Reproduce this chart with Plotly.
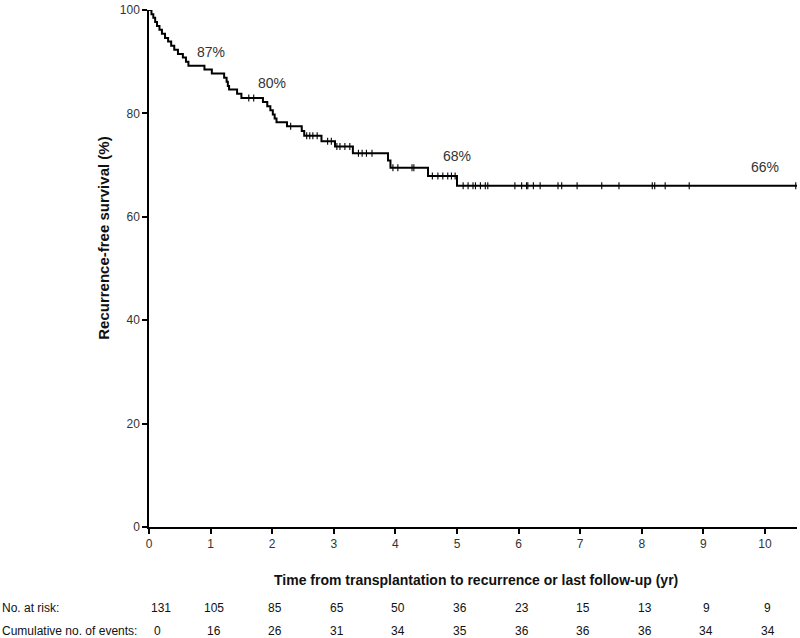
import numpy as np
import plotly.graph_objects as go

# Kaplan-Meier steps (time in years, survival % after the step)
event_times = [0.04, 0.07, 0.10, 0.13, 0.17, 0.21, 0.26, 0.31, 0.36, 0.41, 0.47, 0.55, 0.60, 0.64,
               0.90, 1.02, 1.22, 1.26, 1.28, 1.30, 1.43, 1.50, 1.85, 1.92, 1.97, 2.01, 2.04, 2.07,
               2.24, 2.48, 2.52, 2.80, 3.02, 3.31, 3.88, 3.92, 4.53, 5.00]
survival = [99.2, 98.5, 97.7, 96.9, 96.2, 95.4, 94.6, 93.9, 93.1, 92.3, 91.5, 90.8, 90.0, 89.2,
            88.5, 87.7, 86.9, 86.1, 85.3, 84.6, 83.8, 83.0, 82.2, 81.4, 80.6, 79.8, 79.0, 78.3,
            77.5, 76.6, 75.7, 74.6, 73.6, 72.3, 70.9, 69.5, 67.9, 66.0]
last_followup = 10.52

censor_times = [1.62, 1.70, 2.30, 2.56, 2.61, 2.66, 2.73, 2.90, 2.96, 3.05, 3.10, 3.18, 3.26,
                3.40, 3.46, 3.53, 3.62, 3.96, 4.04, 4.27, 4.30, 4.60, 4.69, 4.77, 4.85, 4.91, 4.97,
                5.10, 5.18, 5.26, 5.30, 5.38, 5.46, 5.50, 5.94, 6.05, 6.13, 6.15, 6.24, 6.35,
                6.64, 6.70, 6.95, 7.35, 7.63, 8.17, 8.21, 8.38, 8.77, 10.50]

label_times = [1, 2, 5, 10]
label_texts = ["87%", "80%", "68%", "66%"]
label_y = [91.8, 85.8, 71.8, 69.7]

table_times = [0, 1, 2, 3, 4, 5, 6, 7, 8, 9, 10]
at_risk = [131, 105, 85, 65, 50, 36, 23, 15, 13, 9, 9]
cum_events = [0, 16, 26, 31, 34, 35, 36, 36, 36, 34, 34]

# build step path
xs = [0.0] + event_times + [last_followup]
ys = [100.0] + survival + [survival[-1]]

et = np.array(event_times)
sv = np.array(survival)
def surv_at(t):
    i = np.searchsorted(et, t, side="right")
    return 100.0 if i == 0 else sv[i - 1]
censor_y = [surv_at(t) for t in censor_times]

FONT = "Liberation Sans, Arial, sans-serif"

fig = go.Figure()
fig.add_trace(go.Scatter(x=xs, y=ys, mode="lines", line=dict(color="black", width=2, shape="hv"),
                         hoverinfo="skip", showlegend=False))
fig.add_trace(go.Scatter(x=censor_times, y=censor_y, mode="markers",
                         marker=dict(symbol="line-ns", size=5, line=dict(color="black", width=1.1)),
                         hoverinfo="skip", showlegend=False))

for t, txt, y in zip(label_times, label_texts, label_y):
    fig.add_annotation(x=t, y=y, text=txt, showarrow=False, xanchor="center", yanchor="middle",
                       font=dict(family=FONT, size=14, color="#333"))

# table rows
row_y = [-0.157, -0.201]
fig.add_annotation(xref="paper", yref="paper", x=-149/648, y=row_y[0], text="No. at risk:",
                   showarrow=False, xanchor="left", yanchor="middle",
                   font=dict(family=FONT, size=12, color="#111"))
fig.add_annotation(xref="paper", yref="paper", x=-149/648, y=row_y[1], text="Cumulative no. of events:",
                   showarrow=False, xanchor="left", yanchor="middle",
                   font=dict(family=FONT, size=12, color="#111"))
for i, (t, n, e) in enumerate(zip(table_times, at_risk, cum_events)):
    fig.add_annotation(x=t, xref="x", yref="paper", y=row_y[0], text=str(n), showarrow=False,
                       xanchor="center", yanchor="middle", xshift=12 if i == 0 else 3,
                       font=dict(family=FONT, size=12, color="#111"))
    fig.add_annotation(x=t, xref="x", yref="paper", y=row_y[1], text=str(e), showarrow=False,
                       xanchor="center", yanchor="middle", xshift=8 if i == 0 else 3,
                       font=dict(family=FONT, size=12, color="#111"))

# axis titles
fig.add_annotation(xref="paper", yref="paper", x=(476-149)/648, y=-(581-527)/522,
                   text="<b>Time from transplantation to recurrence or last follow-up (yr)</b>",
                   showarrow=False, xanchor="center", yanchor="middle",
                   font=dict(family=FONT, size=14, color="#111"))
fig.add_annotation(xref="paper", yref="paper", x=-(149-104)/648, y=(527-236)/522,
                   text="<b>Recurrence-free survival (%)</b>", textangle=-90,
                   showarrow=False, xanchor="center", yanchor="middle",
                   font=dict(family=FONT, size=15, color="#111"))

fig.update_layout(
    width=800, height=638,
    margin=dict(l=149, r=3, t=5, b=111),
    paper_bgcolor="white", plot_bgcolor="white",
    xaxis=dict(range=[0, last_followup], tickvals=table_times, ticks="outside", ticklen=5,
               tickwidth=1.5, tickcolor="black", showline=True, linecolor="black", linewidth=1.5,
               showgrid=False, zeroline=False, ticklabeloverflow="allow",
               tickfont=dict(family=FONT, size=12, color="#333")),
    yaxis=dict(range=[0, 100], tickvals=[0, 20, 40, 60, 80, 100], ticks="outside", ticklen=5,
               tickwidth=1.5, tickcolor="black", showline=True, linecolor="black", linewidth=1.5,
               showgrid=False, zeroline=False, ticklabeloverflow="allow",
               tickfont=dict(family=FONT, size=12, color="#333")),
)

fig.write_html("out.html", config={"displayModeBar": False},
               post_script="document.body.style.margin='0';document.body.style.overflow='hidden';")
